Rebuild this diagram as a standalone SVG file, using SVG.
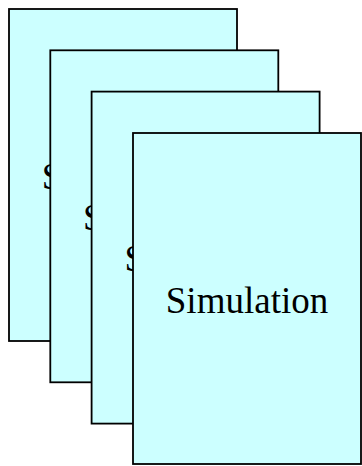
<svg xmlns="http://www.w3.org/2000/svg" width="362" height="466" viewBox="0 0 362 466">
<style>
.card{fill:#CCFFFF;stroke:#000;stroke-width:1.8}
.lbl{font-family:"Liberation Serif","Times New Roman",serif;font-size:37px;fill:#000;text-anchor:middle}
</style>
<rect width="362" height="466" fill="#fff"/>
<g id="node1"><rect class="card" x="9" y="9" width="228" height="332"/><text class="lbl" x="123" y="188.8">Simulation</text></g>
<g id="node2"><rect class="card" x="50.3" y="50.3" width="228" height="332"/><text class="lbl" x="164.3" y="230.1">Simulation</text></g>
<g id="node3"><rect class="card" x="91.6" y="91.6" width="228" height="332"/><text class="lbl" x="205.6" y="271.4">Simulation</text></g>
<g id="node4"><rect class="card" x="133" y="133" width="228" height="331"/><text class="lbl" x="247" y="312.7">Simulation</text></g>
<g id="connectors"/>
</svg>
